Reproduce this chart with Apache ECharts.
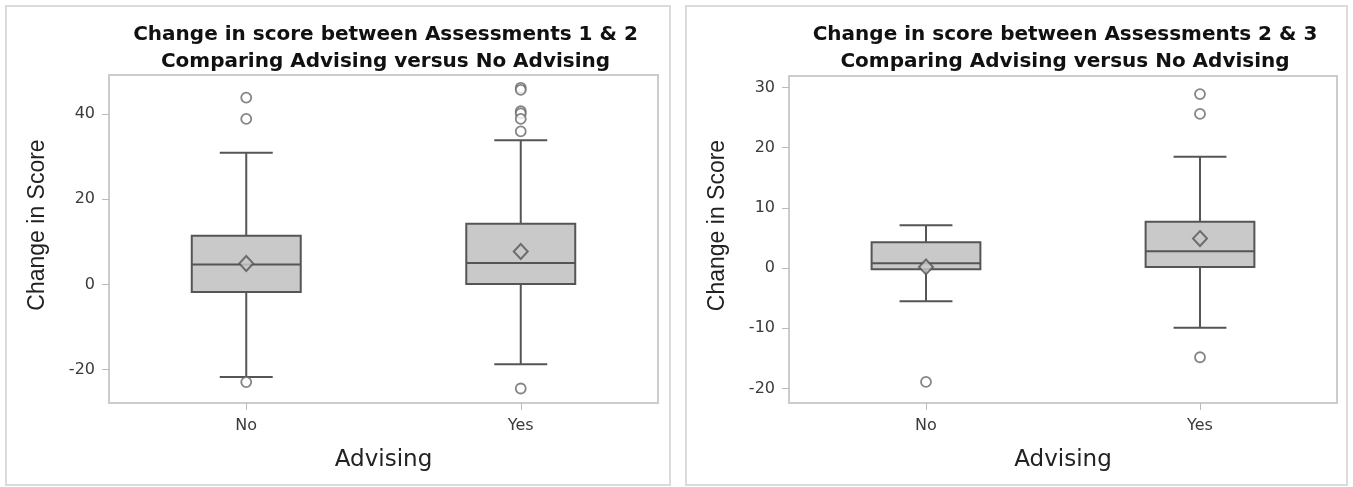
<!DOCTYPE html>
<html>
<head>
<meta charset="utf-8">
<script src="https://cdn.jsdelivr.net/npm/echarts@6/dist/echarts.min.js"></script>
<style>
  html, body { margin: 0; padding: 0; background: #ffffff; }
  #chart { width: 1353px; height: 487px; }
</style>
</head>
<body>
<div id="chart"></div>
<script>
// ---- Data ----
var categories = ['No', 'Yes'];

var titles = [
  'Change in score between Assessments 1 & 2\nComparing Advising versus No Advising',
  'Change in score between Assessments 2 & 3\nComparing Advising versus No Advising'
];

// [low whisker, Q1, median, Q3, high whisker] per category
var boxes12 = [
  [-21.7, -1.8, 4.7, 11.4, 30.9],
  [-18.7, 0.1, 5.0, 14.2, 33.8]
];
var means12 = [4.9, 7.7];
var outliersNo12 = [43.8, 38.8, -22.9];
var outliersYes12 = [46.1, 45.6, 40.6, 40.1, 38.8, 35.9, -24.4];
var yTicks12 = [-20, 0, 20, 40];

var boxes23 = [
  [-5.5, -0.2, 0.8, 4.3, 7.1],
  [-9.9, 0.2, 2.8, 7.7, 18.5]
];
var means23 = [0.2, 4.9];
var outliersNo23 = [-18.9];
var outliersYes23 = [28.9, 25.6, -14.8];
var yTicks23 = [-20, -10, 0, 10, 20, 30];

var yLabel = 'Change in Score';
var xLabel = 'Advising';

// ---- Build series data ----
function boxData(boxes) {
  return boxes.map(function (b, i) { return [i].concat(b); });
}
function meanData(means) {
  return means.map(function (m, i) { return [categories[i], m]; });
}
function outlierData(no, yes) {
  return no.map(function (v) { return [categories[0], v]; })
    .concat(yes.map(function (v) { return [categories[1], v]; }));
}

var BOX_FILL = '#c9c9c9';
var LINE = '#555555';

function renderBox(params, api) {
  var x = api.value(0);
  var band = api.size([1, 0])[0];
  var bw = band * 0.397;
  var cw = band * 0.193;
  var lo = api.coord([x, api.value(1)]);
  var q1 = api.coord([x, api.value(2)]);
  var md = api.coord([x, api.value(3)]);
  var q3 = api.coord([x, api.value(4)]);
  var hi = api.coord([x, api.value(5)]);
  var cx = lo[0];
  var ls = { stroke: LINE, lineWidth: 2, fill: null };
  return {
    type: 'group',
    children: [
      { type: 'line', shape: { x1: cx, y1: hi[1], x2: cx, y2: q3[1] }, style: ls },
      { type: 'line', shape: { x1: cx, y1: q1[1], x2: cx, y2: lo[1] }, style: ls },
      { type: 'line', shape: { x1: cx - cw / 2, y1: hi[1], x2: cx + cw / 2, y2: hi[1] }, style: ls },
      { type: 'line', shape: { x1: cx - cw / 2, y1: lo[1], x2: cx + cw / 2, y2: lo[1] }, style: ls },
      { type: 'rect', shape: { x: cx - bw / 2, y: q3[1], width: bw, height: q1[1] - q3[1] },
        style: { fill: BOX_FILL, stroke: LINE, lineWidth: 2 } },
      { type: 'line', shape: { x1: cx - bw / 2, y1: md[1], x2: cx + bw / 2, y2: md[1] }, style: ls }
    ]
  };
}

var grids = [
  { left: 109, top: 75, width: 549, height: 328 },
  { left: 789, top: 76, width: 548, height: 327 }
];
var yRanges = [[-27.8, 49.1], [-22.4, 31.9]];
var yTickSets = [yTicks12, yTicks23];

var titleFont = { fontFamily: 'DejaVu Sans', fontWeight: 'bold', fontSize: 20, color: '#111', lineHeight: 27 };

var option = {
  backgroundColor: '#ffffff',
  animation: false,
  title: titles.map(function (t, i) {
    return {
      text: t,
      left: grids[i].left + grids[i].width / 2 - 3,
      top: 16,
      textAlign: 'center',
      textStyle: titleFont
    };
  }),
  graphic: [
    { type: 'rect', shape: { x: 6, y: 6, width: 664, height: 479 }, style: { fill: null, stroke: '#d9dbdc', lineWidth: 2 }, silent: true },
    { type: 'rect', shape: { x: 686, y: 6, width: 661, height: 479 }, style: { fill: null, stroke: '#d9dbdc', lineWidth: 2 }, silent: true }
  ],
  grid: grids.map(function (g) {
    return Object.assign({ show: true, borderColor: '#c9cdd0', borderWidth: 2, backgroundColor: 'transparent' }, g);
  }),
  xAxis: [0, 1].map(function (i) {
    return {
      gridIndex: i,
      type: 'category',
      data: categories,
      boundaryGap: true,
      axisLine: { show: true, onZero: false, lineStyle: { color: '#c9cdd0', width: 2 } },
      axisTick: { show: true, alignWithLabel: true, length: 7, lineStyle: { color: '#bbbbbb' } },
      axisLabel: { margin: 15, fontFamily: 'DejaVu Sans', fontSize: 16, color: '#3a3a3a' },
      splitLine: { show: false },
      name: xLabel,
      nameLocation: 'middle',
      nameGap: 46,
      nameTextStyle: { fontFamily: 'DejaVu Sans', fontSize: 23, color: '#222' }
    };
  }),
  yAxis: [0, 1].map(function (i) {
    return {
      gridIndex: i,
      type: 'value',
      min: yRanges[i][0],
      max: yRanges[i][1],
      axisLine: { show: true, onZero: false, lineStyle: { color: '#c9cdd0', width: 2 } },
      axisTick: { show: true, length: 7, customValues: yTickSets[i], lineStyle: { color: '#bbbbbb' } },
      axisLabel: { margin: 14, customValues: yTickSets[i], fontFamily: 'DejaVu Sans', fontSize: 16, color: '#3a3a3a' },
      splitLine: { show: false },
      name: yLabel,
      nameLocation: 'middle',
      nameGap: 60,
      nameTextStyle: { fontFamily: 'Liberation Sans', fontSize: 23, color: '#222', padding: [0, 0, 0, 28] }
    };
  }),
  series: [
    { type: 'custom', xAxisIndex: 0, yAxisIndex: 0, renderItem: renderBox, data: boxData(boxes12),
      encode: { x: 0, y: [1, 2, 3, 4, 5] }, z: 2 },
    { type: 'scatter', xAxisIndex: 0, yAxisIndex: 0, data: meanData(means12), symbol: 'diamond', symbolSize: [14, 15],
      itemStyle: { color: BOX_FILL, borderColor: LINE, borderWidth: 2 }, z: 3 },
    { type: 'scatter', xAxisIndex: 0, yAxisIndex: 0, data: outlierData(outliersNo12, outliersYes12), symbol: 'circle', symbolSize: 10,
      itemStyle: { color: '#ffffff', borderColor: '#666', borderWidth: 1.8 }, z: 3 },
    { type: 'custom', xAxisIndex: 1, yAxisIndex: 1, renderItem: renderBox, data: boxData(boxes23),
      encode: { x: 0, y: [1, 2, 3, 4, 5] }, z: 2 },
    { type: 'scatter', xAxisIndex: 1, yAxisIndex: 1, data: meanData(means23), symbol: 'diamond', symbolSize: [14, 15],
      itemStyle: { color: BOX_FILL, borderColor: LINE, borderWidth: 2 }, z: 3 },
    { type: 'scatter', xAxisIndex: 1, yAxisIndex: 1, data: outlierData(outliersNo23, outliersYes23), symbol: 'circle', symbolSize: 10,
      itemStyle: { color: '#ffffff', borderColor: '#666', borderWidth: 1.8 }, z: 3 }
  ]
};

var chart = echarts.init(document.getElementById('chart'), null, { renderer: 'canvas' });
chart.setOption(option);
</script>
</body>
</html>
